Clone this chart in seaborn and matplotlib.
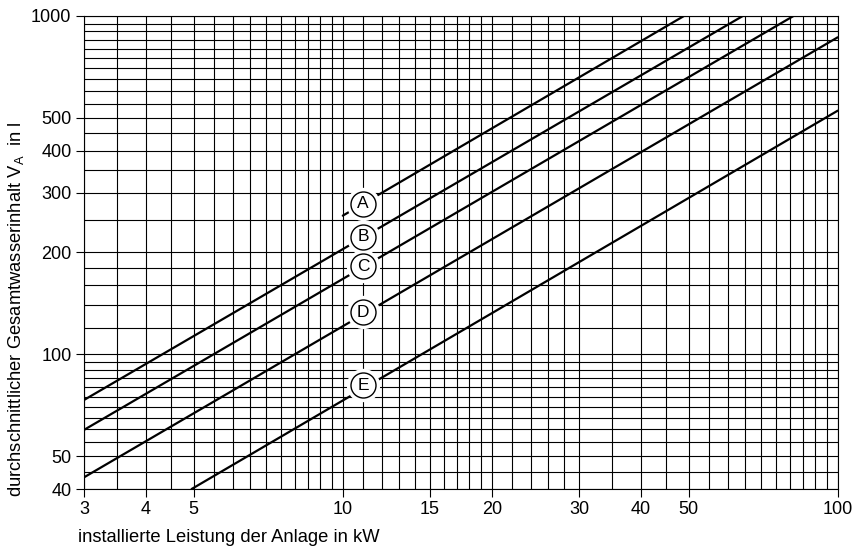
import numpy as np
import pandas as pd
import matplotlib
matplotlib.use("Agg")
import matplotlib.pyplot as plt
from matplotlib.ticker import NullFormatter
import seaborn as sns

# ------------------------------------------ DATA ------------------------------------------------#
curve_names = ["A", "B", "C", "D", "E"]
# start and end point of each straight (log-log) curve
x_start = [10.0, 3.0, 3.0, 3.0, 4.95]
v_start = [257, 73.3, 59.8, 43.3, 40]
x_end = [48.9, 64.3, 81.4, 100, 100]
v_end = [1000, 1000, 1000, 865, 525]

# circled labels
label_x = [11, 11, 11, 11, 11]
label_v = [279, 223, 182, 133, 81]

x_ticks = [3, 4, 5, 10, 15, 20, 30, 40, 50, 100]
y_ticks = [40, 50, 100, 200, 300, 400, 500, 1000]

x_label = "installierte Leistung der Anlage in kW"
y_label = "durchschnittlicher Gesamtwasserinhalt V$_\\mathregular{A}$  in l"

# grid of the log paper
grid_x = np.concatenate([np.arange(3, 10, 0.5), np.arange(10, 20, 1),
                         np.arange(20, 30, 2), np.arange(30, 100.1, 5)])
grid_y = np.concatenate([np.arange(40, 100, 5), np.arange(100, 200, 20),
                         np.arange(200, 1000.1, 50)])

# ------------------------------------------ PLOT ------------------------------------------------#
sns.set_style("white")
plt.rcParams["font.family"] = ["Liberation Sans", "DejaVu Sans"]
plt.rcParams["mathtext.default"] = "regular"
plt.rcParams["text.color"] = "black"
plt.rcParams["xtick.color"] = "black"
plt.rcParams["ytick.color"] = "black"
plt.rcParams["xtick.labelcolor"] = "black"
plt.rcParams["ytick.labelcolor"] = "black"

rows = []
for i, name in enumerate(curve_names):
    rows.append({"kurve": name, "leistung": x_start[i], "volumen": v_start[i]})
    rows.append({"kurve": name, "leistung": x_end[i], "volumen": v_end[i]})
df = pd.DataFrame(rows)
df_lab = pd.DataFrame({"kurve": curve_names, "leistung": label_x, "volumen": label_v})

fig = plt.figure(figsize=(8.58, 5.5), dpi=100)
ax = fig.add_axes([84 / 858, 1 - 489 / 550, (837.7 - 84) / 858, (489 - 16) / 550])

sns.lineplot(data=df, x="leistung", y="volumen", hue="kurve", palette=["black"] * 5,
             legend=False, linewidth=1.6, estimator=None, sort=False, ax=ax, zorder=2)

# white halo + circle markers
ax.scatter(df_lab["leistung"], df_lab["volumen"], s=24 ** 2, color="white", zorder=3, linewidths=0)
sns.scatterplot(data=df_lab, x="leistung", y="volumen", s=18 ** 2, color="white",
                edgecolor="black", linewidth=1.0, zorder=4, ax=ax, legend=False)
for i, name in enumerate(curve_names):
    ax.text(label_x[i], label_v[i], name, ha="center", va="center", fontsize=12.5,
            color="black", zorder=5)

ax.set_xscale("log")
ax.set_yscale("log")
ax.set_xlim(3, 100)
ax.set_ylim(40, 1000)

ax.set_xticks(x_ticks, labels=[str(t) for t in x_ticks])
ax.set_yticks(y_ticks, labels=[str(t) for t in y_ticks])
ax.set_xticks(grid_x, minor=True)
ax.set_yticks(grid_y, minor=True)
ax.xaxis.set_minor_formatter(NullFormatter())
ax.yaxis.set_minor_formatter(NullFormatter())
ax.tick_params(which="major", direction="out", length=6, width=0.8, color="black",
               labelcolor="black", labelsize=13, pad=3, bottom=True, left=True)
ax.tick_params(which="minor", length=0)

ax.grid(True, which="both", color="black", linewidth=0.8)
ax.set_axisbelow(True)
for sp in ax.spines.values():
    sp.set_color("black")
    sp.set_linewidth(0.8)

ax.set_xlabel("")
ax.set_ylabel("")
fig.text(78 / 858, 1 - 537 / 550, x_label, ha="left", va="center", fontsize=13.2, color="black")
fig.text(16 / 858, 1 - 497 / 550, y_label, ha="center", va="bottom", rotation=90,
         fontsize=13.2, color="black")

fig.savefig("out.png", dpi=100)
